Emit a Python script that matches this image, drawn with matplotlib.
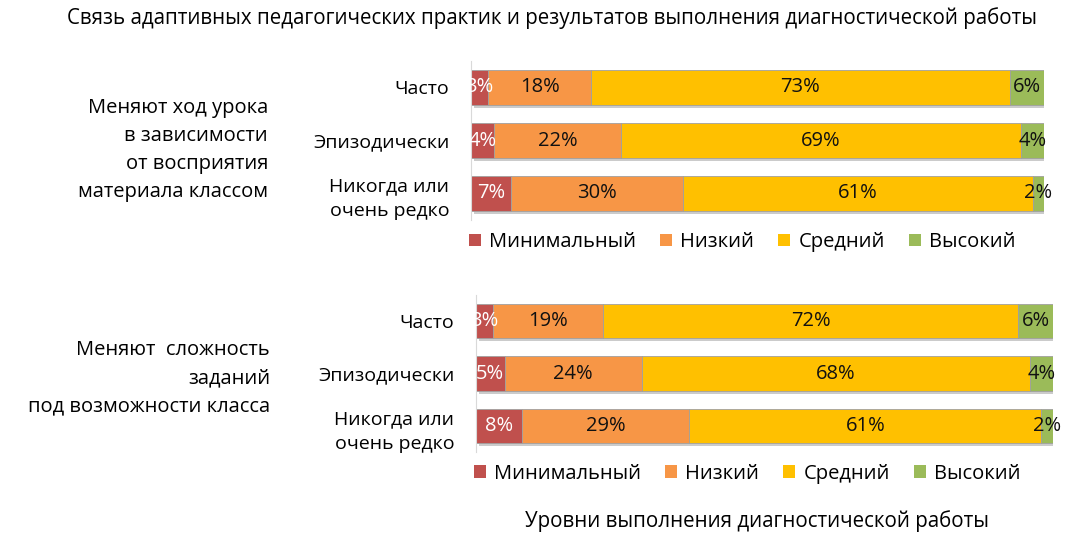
import numpy as np
import matplotlib
matplotlib.use('Agg')
import matplotlib.pyplot as plt
import matplotlib.patheffects as pe

plt.rcParams['font.family'] = ['Open Sans', 'DejaVu Sans']

title = 'Связь адаптивных педагогических практик и результатов выполнения диагностической работы'
xlabel = 'Уровни выполнения диагностической работы'
levels = ['Минимальный', 'Низкий', 'Средний', 'Высокий']
colors = ['#C0504D', '#F79646', '#FFC000', '#9BBB59']
categories = ['Часто', 'Эпизодически', 'Никогда или\nочень редко']

group1 = 'Меняют ход урока\nв зависимости\nот восприятия\nматериала классом'
values1 = [[3, 18, 73, 6],
           [4, 22, 69, 4],
           [7, 30, 61, 2]]

group2 = 'Меняют  сложность\nзаданий\nпод возможности класса'
values2 = [[3, 19, 72, 6],
           [5, 24, 68, 4],
           [8, 29, 61, 2]]

W, H = 1085, 545
fig = plt.figure(figsize=(W / 100, H / 100), dpi=100)


def px_axes(x0, x1, y0, y1):
    return fig.add_axes([x0 / W, 1 - y1 / H, (x1 - x0) / W, (y1 - y0) / H])


def draw_panel(ax, values, legend_y):
    vals = np.array(values, dtype=float)
    # 100% stacked: each row scaled to its total
    shares = vals / vals.sum(axis=1, keepdims=True)
    y = np.arange(len(categories))
    left = np.zeros(len(categories))
    shadow = [pe.SimplePatchShadow(offset=(2, -2), shadow_rgbFace='#999999', alpha=0.5), pe.Normal()]
    for j, lev in enumerate(levels):
        bars = ax.barh(y, shares[:, j], left=left, height=0.66, color=colors[j],
                       edgecolor='#a0a0a0', linewidth=0.6, label=lev)
        for b in bars:
            b.set_path_effects(shadow)
        for i in range(len(categories)):
            ax.text(left[i] + shares[i, j] / 2, y[i], '%d%%' % vals[i, j],
                    ha='center', va='center', fontsize=14.5,
                    color='white' if j == 0 else '#111111')
        left += shares[:, j]
    ax.set_xlim(0, 1)
    ax.set_ylim(len(categories) - 0.5, -0.5)
    ax.set_yticks(y)
    ax.set_yticklabels(categories, fontsize=14, linespacing=1.5)
    ax.tick_params(axis='y', length=0, pad=15.5)
    ax.set_xticks([])
    for s in ['top', 'right', 'bottom']:
        ax.spines[s].set_visible(False)
    ax.spines['left'].set_color('#d9d9d9')
    leg = ax.legend(loc='upper left', bbox_to_anchor=(-0.018, legend_y), ncol=4, frameon=False,
                    fontsize=14.5, handlelength=0.6, handleheight=0.6, handletextpad=0.4,
                    columnspacing=1.2, borderaxespad=0)
    for h in leg.legend_handles:
        h.set_path_effects([])
        h.set_edgecolor('none')


ax1 = px_axes(471, 1044, 61, 220)
draw_panel(ax1, values1, -0.025)
ax2 = px_axes(476, 1053, 295, 452)
draw_panel(ax2, values2, -0.025)

fig.text(268 / W, 1 - 150 / H, group1, ha='right', va='center', fontsize=14.5, linespacing=1.55)
fig.text(270 / W, 1 - 378 / H, group2, ha='right', va='center', fontsize=14.5, linespacing=1.55)

fig.text(552 / W, 1 - 18 / H, title, ha='center', va='center', fontsize=14.8)
fig.text(757 / W, 1 - 521 / H, xlabel, ha='center', va='center', fontsize=14.8)

fig.savefig('out.png', dpi=100, facecolor='white')
